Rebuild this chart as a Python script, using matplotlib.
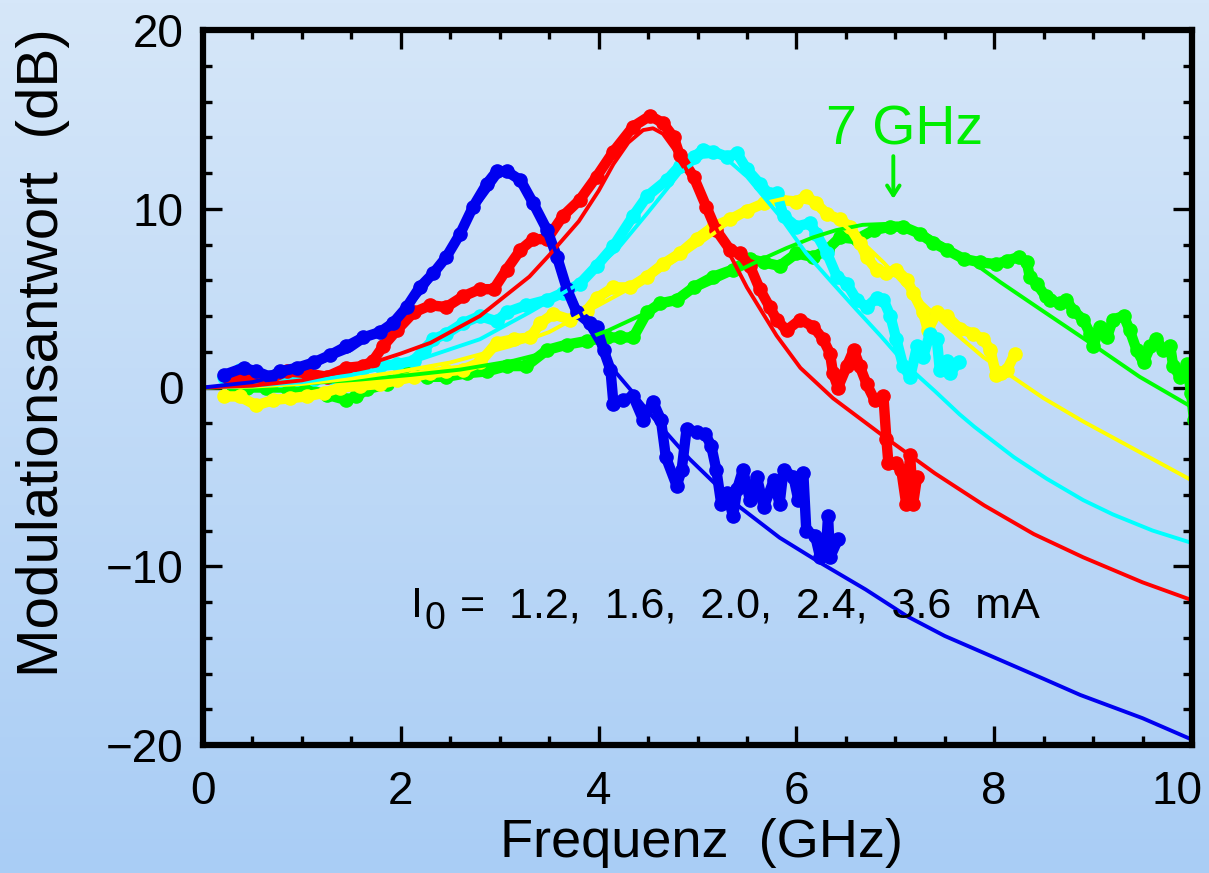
import numpy as np
import matplotlib
matplotlib.use("Agg")
import matplotlib.pyplot as plt
import matplotlib.transforms as mtransforms
from matplotlib.colors import LinearSegmentedColormap

plt.rcParams['font.family'] = ['Liberation Sans', 'DejaVu Sans']

# ---------------- data ----------------
blue_f = [0.21,0.41,0.54,0.68,0.78,0.95,1.12,1.28,1.45,1.62,1.79,1.92,2.06,2.19,2.33,2.46,2.60,2.73,2.87,2.97,
          3.07,3.21,3.34,3.48,3.58,3.68,3.78,3.91,3.98,4.05,4.12,4.15,4.25,4.35,4.45,4.55,4.63,4.68,4.79,4.84,
          4.89,4.99,5.08,5.14,5.19,5.24,5.30,5.36,5.40,5.46,5.53,5.60,5.67,5.77,5.83,5.87,5.97,6.02,6.07,6.10,
          6.19,6.24,6.30,6.32,6.34,6.42]
blue_db = [0.7,1.1,0.9,0.6,0.9,1.1,1.4,1.8,2.3,2.8,3.1,3.6,4.5,5.6,6.4,7.3,8.6,10.1,11.4,12.1,
           12.1,11.6,10.3,8.8,7.3,5.5,4.2,3.6,3.4,2.1,1.0,-0.9,-0.7,-0.5,-1.8,-0.8,-1.8,-3.9,-5.5,-4.6,
           -2.3,-2.5,-2.6,-3.3,-4.6,-6.5,-5.9,-7.2,-5.7,-4.6,-6.3,-5.0,-6.7,-5.2,-6.5,-4.6,-5.0,-6.3,-4.8,-8.0,
           -8.3,-9.5,-9.0,-7.2,-9.5,-8.5]

red_f = [0.27,0.44,0.64,0.85,1.05,1.25,1.45,1.62,1.72,1.82,1.96,2.13,2.30,2.46,2.63,2.80,2.94,3.07,3.21,3.34,
         3.48,3.64,3.81,3.98,4.15,4.35,4.52,4.65,4.76,4.82,4.96,5.09,5.19,5.33,5.43,5.53,5.63,5.73,5.80,5.90,
         6.04,6.17,6.27,6.34,6.37,6.42,6.51,6.58,6.64,6.71,6.79,6.88,6.91,6.93,7.01,7.06,7.11,7.15,7.18,7.22]
red_db = [0.4,0.6,0.4,0.9,0.8,0.6,1.1,1.2,1.5,2.3,3.2,4.2,4.6,4.5,5.1,5.5,5.5,6.6,7.7,8.3,
          8.3,9.6,10.5,11.8,13.2,14.6,15.2,14.8,14.0,13.0,11.8,10.1,8.8,7.7,7.5,6.8,5.5,4.5,3.8,3.2,
          3.8,3.4,2.7,1.9,0.8,0.0,1.2,2.1,1.2,0.2,-0.7,-0.5,-2.9,-4.2,-4.2,-4.6,-6.5,-3.8,-6.5,-5.0]

cyan_f = [0.21,0.37,0.51,0.64,0.78,0.95,1.12,1.28,1.45,1.62,1.79,1.96,2.13,2.23,2.33,2.46,2.63,2.80,2.97,3.07,
          3.27,3.48,3.64,3.81,3.98,4.15,4.35,4.49,4.69,4.82,4.96,5.06,5.16,5.30,5.40,5.50,5.63,5.73,5.80,5.87,
          6.00,6.14,6.20,6.31,6.41,6.51,6.61,6.71,6.81,6.88,6.95,7.01,7.08,7.15,7.22,7.28,7.35,7.42,7.45,7.52,
          7.55,7.64]
cyan_db = [0.6,1.0,0.8,0.5,0.4,0.5,0.5,0.6,0.9,1.1,1.2,1.3,1.5,2.1,2.7,3.0,3.6,4.0,3.7,4.2,
           4.6,4.9,5.3,5.8,6.8,7.9,9.6,10.7,11.6,12.4,12.9,13.3,13.2,12.9,13.1,12.2,11.4,10.8,10.9,9.6,
           9.0,9.2,8.6,7.5,6.2,5.8,4.9,4.5,5.0,4.9,4.0,2.7,1.2,0.6,2.3,1.7,3.0,2.7,1.0,1.5,
           0.8,1.4]

yellow_f = [0.21,0.37,0.54,0.71,0.88,1.05,1.22,1.39,1.59,1.79,1.96,2.13,2.30,2.46,2.63,2.80,2.97,3.14,3.31,3.41,
            3.54,3.71,3.88,3.98,4.15,4.32,4.49,4.65,4.82,4.99,5.16,5.33,5.50,5.67,5.83,6.00,6.10,6.20,6.31,6.44,
            6.54,6.64,6.71,6.81,6.91,7.01,7.12,7.18,7.28,7.33,7.42,7.52,7.65,7.79,7.89,7.96,8.02,8.07,8.13,8.21]
yellow_db = [-0.5,-0.5,-1.0,-0.7,-0.6,-0.5,-0.3,0.0,0.1,0.2,0.4,0.6,0.8,0.9,1.0,1.4,2.5,2.7,2.8,3.6,
             4.1,3.8,4.3,5.0,5.6,5.6,6.2,6.9,7.5,8.3,9.0,9.4,9.9,10.3,10.5,10.4,10.7,10.3,9.7,9.4,
             9.0,8.1,7.3,6.6,6.4,6.6,6.0,5.3,4.2,3.2,4.2,4.0,3.3,3.0,2.7,2.1,0.7,0.8,1.0,1.9]

green_f = [0.24,0.30,0.44,0.64,0.85,1.05,1.25,1.45,1.55,1.66,1.86,2.06,2.26,2.46,2.67,2.87,3.07,3.27,3.48,3.68,
           3.88,4.08,4.22,4.35,4.49,4.62,4.79,4.96,5.16,5.36,5.53,5.67,5.83,6.00,6.17,6.31,6.44,6.61,6.78,6.95,
           7.08,7.25,7.38,7.52,7.69,7.86,8.02,8.13,8.25,8.33,8.36,8.43,8.52,8.56,8.67,8.73,8.80,8.90,8.97,9.00,
           9.07,9.14,9.20,9.31,9.37,9.44,9.51,9.58,9.64,9.71,9.78,9.81,9.88,9.95,9.99,10.02]
green_db = [0.4,0.1,0.0,0.0,0.0,-0.1,-0.4,-0.7,-0.5,-0.1,0.2,0.8,0.6,0.6,0.8,0.9,1.2,1.2,2.1,2.4,
            2.6,2.8,2.8,2.8,4.2,4.7,4.9,5.6,6.2,6.6,7.2,7.0,6.8,7.5,7.3,7.7,8.4,8.3,8.8,9.0,
            9.0,8.6,8.1,7.7,7.2,7.0,6.9,7.1,7.3,7.0,6.2,5.8,5.1,4.9,4.7,4.9,4.3,3.8,3.0,2.3,
            3.4,2.8,3.8,4.0,3.2,2.1,1.4,2.3,2.7,2.1,2.3,1.2,0.6,1.3,-0.3,-1.8]

# fitted curves
blue_fit_f = [0,0.5,1.0,1.5,2.0,2.25,2.5,2.75,3.0,3.1,3.2,3.35,3.5,3.7,3.85,4.0,4.15,4.35,4.6,4.92,
              5.2,5.43,5.83,6.24,6.7,7.12,7.5,8.0,8.5,8.87,9.5,10.0]
blue_fit_db = [0,0.3,1.0,2.1,4.0,5.6,7.6,10.0,11.9,12.1,11.6,10.3,8.6,5.5,3.8,2.4,1.0,-0.3,-2.0,-4.0,
               -5.5,-6.7,-8.4,-9.8,-11.3,-12.8,-13.9,-15.1,-16.3,-17.2,-18.5,-19.7]

red_fit_f = [0,0.5,1.0,1.5,2.0,2.3,2.8,3.3,3.5,3.8,4.0,4.15,4.3,4.45,4.55,4.65,4.82,5.0,5.16,5.35,
             5.5,5.8,6.04,6.37,6.9,7.4,7.9,8.4,8.9,9.5,10.0]
red_fit_db = [0,0.1,0.4,1.0,1.9,2.5,4.0,6.2,7.4,9.3,11.0,12.5,13.7,14.4,14.5,14.2,12.9,11.0,9.2,7.2,
              5.6,2.9,1.1,-0.6,-2.8,-4.8,-6.6,-8.2,-9.5,-10.9,-11.9]

cyan_fit_f = [0,0.5,1.0,1.5,2.1,2.8,3.3,3.8,4.2,4.5,4.82,5.05,5.25,5.5,5.83,6.1,6.34,6.6,6.85,7.12,
              7.4,7.65,7.8,8.2,8.53,8.9,9.2,9.6,10.0]
cyan_fit_db = [0,0.1,0.3,0.7,1.4,2.7,4.2,5.8,7.8,9.8,12.0,12.9,13.0,11.8,9.6,7.5,6.0,4.4,2.9,1.2,
               -0.2,-1.5,-2.2,-3.9,-5.1,-6.3,-7.1,-8.0,-8.7]

yellow_fit_f = [0,0.5,1.0,1.5,2.0,2.5,3.1,3.5,3.8,4.1,4.5,4.8,5.16,5.4,5.66,5.9,6.15,6.35,6.54,6.88,
                7.22,7.55,7.89,8.13,8.5,8.9,9.3,9.7,10.0]
yellow_fit_db = [0,0.05,0.2,0.5,0.9,1.4,2.3,3.1,4.0,4.9,6.1,7.2,8.6,9.6,10.3,10.6,10.3,9.7,8.8,7.0,
                 5.0,3.3,1.7,0.8,-0.6,-1.9,-3.1,-4.3,-5.2]

green_fit_f = [0,0.5,1.1,1.6,2.1,2.6,3.14,3.5,3.81,4.1,4.49,4.8,5.16,5.4,5.66,5.9,6.17,6.4,6.67,6.9,
               7.1,7.3,7.52,7.86,8.06,8.46,8.97,9.47,10.0]
green_fit_db = [0,0.05,0.25,0.45,0.7,1.0,1.5,2.0,2.6,3.2,4.2,5.0,5.9,6.5,7.2,7.8,8.4,8.8,9.1,9.15,
                9.0,8.6,7.9,6.7,5.9,4.4,2.5,0.6,-1.1]

x_ticks = [0, 2, 4, 6, 8, 10]
y_ticks = [-20, -10, 0, 10, 20]

# ---------------- figure ----------------
W, H = 1209, 873
fig = plt.figure(figsize=(W / 100, H / 100), dpi=100)

# gradient background
bg = fig.add_axes([0, 0, 1, 1], zorder=-10)
cmap = LinearSegmentedColormap.from_list('bg', ['#a9cdf5', '#d6e7f9'])
grad = np.linspace(0, 1, 256).reshape(-1, 1)
bg.imshow(grad, aspect='auto', cmap=cmap, origin='lower', extent=[0, 1, 0, 1])
bg.axis('off')

ax = fig.add_axes([203 / W, 1 - 745 / H, (1192 - 203) / W, (745 - 30) / H])
ax.set_facecolor('none')

series = [
    (green_f, green_db, green_fit_f, green_fit_db, '#00ff00'),
    (yellow_f, yellow_db, yellow_fit_f, yellow_fit_db, '#ffff00'),
    (cyan_f, cyan_db, cyan_fit_f, cyan_fit_db, '#00ffff'),
    (red_f, red_db, red_fit_f, red_fit_db, '#ff0000'),
    (blue_f, blue_db, blue_fit_f, blue_fit_db, '#0000f0'),
]
for i, (f, d, ff, fd, c) in enumerate(series):
    ax.plot(f, d, color=c, lw=7.5, marker='o', ms=9.5, solid_joinstyle='round',
            solid_capstyle='round', zorder=3 + i)
for i, (f, d, ff, fd, c) in enumerate(series):
    ax.plot(ff, fd, color=c, lw=2.8, zorder=10 + i)

ax.set_xlim(0, 10)
ax.set_ylim(-20, 20)
ax.set_xticks(x_ticks)
ax.set_yticks(y_ticks)
ax.set_xticks(np.arange(0, 10.01, 0.5), minor=True)
ax.set_yticks(np.arange(-20, 20.01, 2), minor=True)
ax.tick_params(which='both', direction='in', top=True, right=True, width=2.4, color='black')
ax.tick_params(which='major', length=13.5, labelsize=33)
ax.tick_params(which='minor', length=6.5)
ax.tick_params(axis='y', pad=14)
ax.tick_params(axis='x', pad=18)
for s in ax.spines.values():
    s.set_linewidth(4.5)
    s.set_zorder(30)

# keep the last x tick label inside the picture, as in the reference
last = ax.xaxis.get_major_ticks()[-1].label1
last.set_transform(last.get_transform() + mtransforms.ScaledTranslation(-0.15, 0, fig.dpi_scale_trans))

# annotations
ax.text(6.30, 13.57, '7 GHz', color='#00ee00', fontsize=40, ha='left', va='baseline', zorder=40)
ax.annotate('', xy=(6.98, 10.4), xytext=(6.98, 13.1),
            arrowprops=dict(arrowstyle='->,head_length=0.7,head_width=0.45', color='#00ee00', lw=2.8),
            zorder=40)

ax.text(2.10, -12.84, 'I', fontsize=31, ha='left', va='baseline', zorder=40)
ax.text(2.24, -13.5, '0', fontsize=27, ha='left', va='baseline', zorder=40)
ax.text(2.60, -12.84, '=  1.2,  1.6,  2.0,  2.4,  3.6  mA', fontsize=31, ha='left', va='baseline', zorder=40)

fig.text(43 / W, 1 - 353 / H, 'Modulationsantwort  (dB)', rotation=90, fontsize=42,
         ha='center', va='center')
fig.text(702 / W, 1 - 843 / H, 'Frequenz  (GHz)', fontsize=39, ha='center', va='center')

fig.savefig('out.png', dpi=100)
